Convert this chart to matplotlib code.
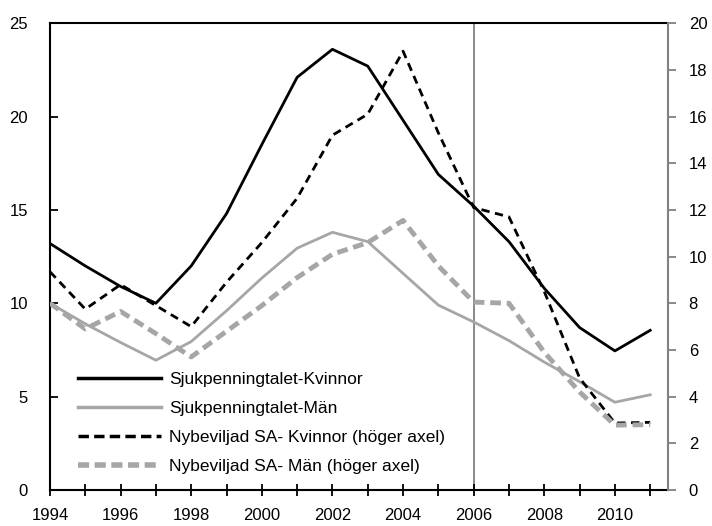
import matplotlib
matplotlib.use("Agg")
import matplotlib.pyplot as plt
from matplotlib.lines import Line2D

# ========== Data ==========
years = list(range(1994, 2012))

# Sjukpenningtalet (vänster axel)
sjp_kvinnor = [13.2, 12.0, 10.9, 10.0, 12.0, 14.8, 18.5, 22.1, 23.6, 22.7,
               19.8, 16.9, 15.2, 13.3, 10.8, 8.7, 7.45, 8.55]
sjp_man = [10.0, 8.9, 7.9, 6.95, 7.95, 9.6, 11.35, 12.95, 13.8, 13.3,
           11.6, 9.9, 9.0, 8.0, 6.85, 5.8, 4.7, 5.1]

# Nybeviljad SA (höger axel)
sa_kvinnor = [9.35, 7.75, 8.8, 7.9, 7.0, 8.9, 10.6, 12.5, 15.2, 16.1,
              18.8, 15.3, 12.1, 11.7, 8.5, 4.8, 2.87, 2.9]
sa_man = [8.0, 6.9, 7.65, 6.7, 5.7, 6.8, 7.9, 9.1, 10.1, 10.6,
          11.55, 9.6, 8.05, 8.0, 5.9, 4.2, 2.78, 2.8]

labels = ["Sjukpenningtalet-Kvinnor", "Sjukpenningtalet-Män",
          "Nybeviljad SA- Kvinnor (höger axel)", "Nybeviljad SA- Män (höger axel)"]
# ===========================

plt.rcParams["font.family"] = ["Liberation Sans", "DejaVu Sans"]
plt.rcParams["font.size"] = 12

GRAY = "#a6a6a6"

fig = plt.figure(figsize=(7.12, 5.26), dpi=100)
ax = fig.add_axes([0.0702, 0.0684, 0.8678, 0.8876])
ax2 = ax.twinx()

ax.axvline(2006, color="#808080", lw=1.3, zorder=1)

ax.plot(years, sjp_kvinnor, color="black", lw=2, zorder=3)
ax.plot(years, sjp_man, color=GRAY, lw=2, zorder=3)
ax2.plot(years, sa_kvinnor, color="black", lw=2, ls=(0, (3, 2)))
ax2.plot(years, sa_man, color=GRAY, lw=3.5, ls=(0, (2.2, 1.2)))

ax.set_xlim(1994, 2011.5)
ax.set_ylim(0, 25)
ax2.set_ylim(0, 20)

ax.set_xticks(range(1994, 2012, 2))
ax.set_xticks(range(1994, 2012), minor=True)
ax.set_yticks(range(0, 26, 5))
ax2.set_yticks(range(0, 21, 2))

ax.tick_params(axis="x", which="both", direction="inout", length=8, width=1.3, pad=9)
ax.tick_params(axis="y", direction="in", length=6, width=1.3, pad=16)
ax2.tick_params(axis="y", direction="out", length=6, width=1.3, color="#808080", pad=9)

for s in ["left", "top", "bottom"]:
    ax.spines[s].set_linewidth(1.5)
ax2.spines["right"].set_color("#808080")
ax2.spines["right"].set_linewidth(1.5)
ax.spines["right"].set_visible(False)
for s in ["left", "top", "bottom"]:
    ax2.spines[s].set_visible(False)

handles = [
    Line2D([], [], color="black", lw=2.5),
    Line2D([], [], color=GRAY, lw=2.5),
    Line2D([], [], color="black", lw=2.5, ls=(0, (3, 1.5))),
    Line2D([], [], color=GRAY, lw=4, ls=(0, (2, 1))),
]
ax2.legend(handles, labels, loc="lower left", bbox_to_anchor=(0.02, 0.0),
           frameon=False, handlelength=4.8, labelspacing=0.8, fontsize=12.5,
           borderaxespad=0.5, handletextpad=0.45)

plt.savefig("out.png", dpi=100)
